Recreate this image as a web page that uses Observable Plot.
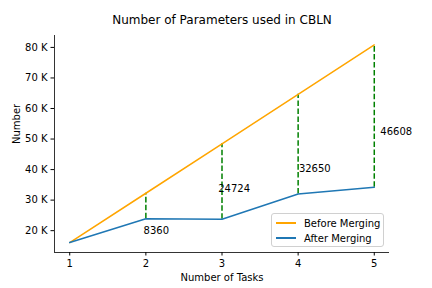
<!DOCTYPE html>
<html>
<head>
<meta charset="utf-8">
<script src="https://cdn.jsdelivr.net/npm/d3@7"></script>
<script src="https://cdn.jsdelivr.net/npm/@observablehq/plot@0.6"></script>
<style>
  html, body { margin: 0; padding: 0; background: #fff; }
  #wrap { position: relative; width: 432px; height: 288px; font-family: "DejaVu Sans", sans-serif; }
  #legend { position: absolute; left: 271px; top: 213px; width: 113px; height: 34px;
    border: 1px solid #d0d0d0; border-radius: 3px; background: rgba(255,255,255,0.8);
    font-size: 10px; color: #000; box-sizing: border-box; }
  .item { position: absolute; left: 4px; display: flex; align-items: center; white-space: nowrap; height: 14px; }
  .sw { width: 20px; height: 2px; margin-right: 8px; }
</style>
</head>
<body>
<div id="wrap">
  <div id="chart"></div>
  <div id="legend">
    <div class="item" style="top:2px"><span class="sw" style="background:#FFA500"></span>Before Merging</div>
    <div class="item" style="top:17px"><span class="sw" style="background:#1f77b4"></span>After Merging</div>
  </div>
</div>
<script>
const tasks = [1, 2, 3, 4, 5];
const before = [16100, 32250, 48450, 64650, 80800];
const after = [16100, 23890, 23726, 32000, 34192];
const diffLabels = ["8360", "24724", "32650", "46608"];
const diffTasks = [2, 3, 4, 5];
const labelX = [1.97, 2.95, 4.01, 5.08];
const labelY = [19000, 32700, 39200, 51300];
const yTicks = [20000, 30000, 40000, 50000, 60000, 70000, 80000];
const xDomain = [0.8, 5.2];
const yDomain = [12850, 83900];

const lineData = tasks.map((t, i) => ({t, before: before[i], after: after[i]}));
const diffData = diffTasks.map((t, i) => ({
  t, lo: after[tasks.indexOf(t)], hi: before[tasks.indexOf(t)],
  label: diffLabels[i], lx: labelX[i], ly: labelY[i]
}));

const chart = Plot.plot({
  width: 432,
  height: 288,
  marginLeft: 54,
  marginRight: 43,
  marginTop: 35,
  marginBottom: 36,
  style: {fontFamily: "DejaVu Sans, sans-serif", fontSize: "10px", color: "#000", background: "#fff"},
  x: {domain: xDomain, ticks: tasks, tickFormat: d => String(d), tickSize: 3.5, tickPadding: 3.5, label: null},
  y: {domain: yDomain, ticks: yTicks, tickFormat: d => `${d / 1000} K`, tickSize: 3.5, tickPadding: 3.5, label: null},
  marks: [
    Plot.ruleX([xDomain[0]], {stroke: "#000", strokeWidth: 0.8}),
    Plot.ruleY([yDomain[0]], {stroke: "#000", strokeWidth: 0.8}),
    Plot.ruleX(diffData, {x: "t", y1: "lo", y2: "hi", stroke: "green", strokeWidth: 1.5, strokeDasharray: "5.55,2.4"}),
    Plot.line(lineData, {x: "t", y: "before", stroke: "#FFA500", strokeWidth: 1.5}),
    Plot.line(lineData, {x: "t", y: "after", stroke: "#1f77b4", strokeWidth: 1.5}),
    Plot.text(diffData, {x: "lx", y: "ly", text: "label", textAnchor: "start", lineAnchor: "bottom", fontSize: 10, fill: "#000"}),
    Plot.text(["Number of Parameters used in CBLN"], {frameAnchor: "top", dy: -20, fontSize: 12, fill: "#000"}),
    Plot.text(["Number of Tasks"], {frameAnchor: "bottom", dy: 28, fontSize: 10, fill: "#000"}),
    Plot.text(["Number"], {frameAnchor: "left", dx: -38, rotate: -90, fontSize: 10, fill: "#000"})
  ]
});
document.getElementById("chart").appendChild(chart);
</script>
</body>
</html>
